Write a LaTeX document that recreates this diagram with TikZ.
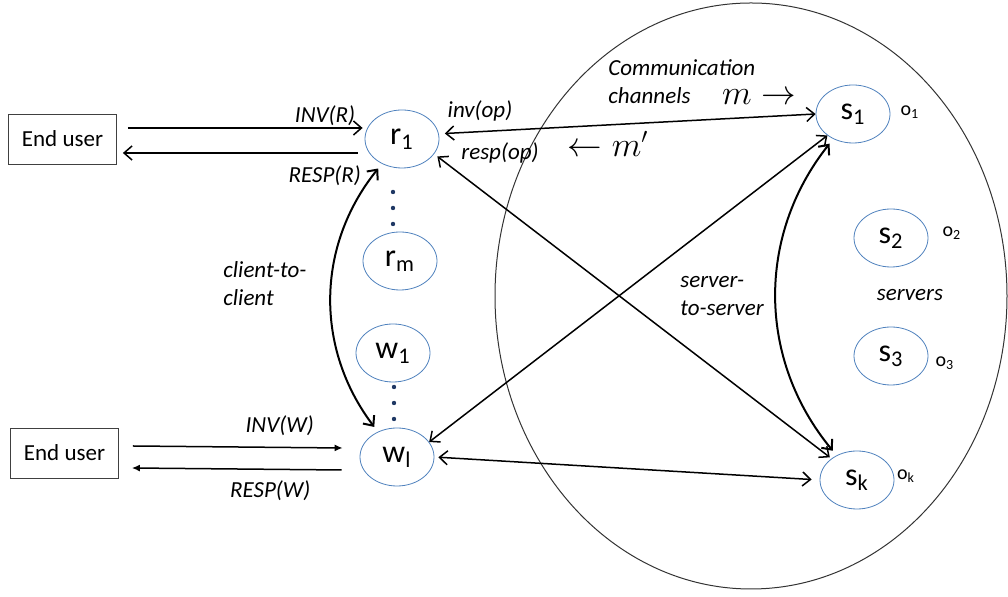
\documentclass[tikz,border=0pt]{standalone}
\usepackage{fontspec}
\setmainfont{Carlito}
\usepackage{amsmath}
\usepackage{xcolor}
\usepackage{tikz}
\usetikzlibrary{arrows.meta,positioning,shapes.geometric}
\definecolor{nodeblue}{RGB}{79,129,189}
\definecolor{dotblue}{RGB}{31,56,100}
\tikzset{%
	user/.style  = {draw=black!75, rectangle, minimum width=54pt, minimum height=25pt, inner sep=0pt, font=\fontsize{11.5}{14}\selectfont},
	proc/.style  = {draw=nodeblue, ellipse, minimum width=37pt, minimum height=29pt, inner sep=0pt, font=\fontsize{16}{18}\selectfont},
	lbl/.style   = {font=\fontsize{11.5}{14}\selectfont\itshape, inner sep=1pt},
	obj/.style   = {font=\fontsize{10}{12}\selectfont, inner sep=0pt},
	msg/.style   = {font=\fontsize{16}{18}\selectfont, inner sep=0pt},
	link/.style  = {line width=0.75pt},
	curve/.style = {line width=1pt, shorten <=3pt, shorten >=3pt},
	wtip/.style  = {line width=0.75pt, -{Latex[length=4pt,width=3.5pt]}},
}

\begin{document}
\begin{tikzpicture}[x=0.5pt,y=-0.5pt,>={Straight Barb[length=4pt,width=7pt]}]
		\useasboundingbox (0,0) rectangle (1008,597);
		% server group
		\draw[line width=0.5pt,black!80] (751,296) ellipse [x radius=128pt, y radius=146.5pt];
		
		% end users and clients
		\node[user] (endR) at (62.5,139) {End user};
		\node[user] (endW) at (64.5,453) {End user};
		\node[proc] (r1) at (402,139) {r\textsubscript{1}};
		\node[proc] (rm) at (400,261) {r\textsubscript{m}};
		\node[proc] (w1) at (393,353) {w\textsubscript{1}};
		\node[proc] (wl) at (397,457) {w\textsubscript{l}};
		\foreach \y in {192,208,224} \fill[dotblue] (393,\y) circle (1.1pt);
		\foreach \y in {387,403,419} \fill[dotblue] (394,\y) circle (1.1pt);
		
		% servers
		\node[proc] (s1) at (853,114) {s\textsubscript{1}};
		\node[proc] (s2) at (891,238) {s\textsubscript{2}};
		\node[proc] (s3) at (891,356) {s\textsubscript{3}};
		\node[proc] (sk) at (857,480) {s\textsubscript{k}};
		\node[obj] (o1) at (910,112) {o\textsubscript{1}};
		\node[obj] (o2) at (952,233) {o\textsubscript{2}};
		\node[obj] (o3) at (945,363) {o\textsubscript{3}};
		\node[obj] (ok) at (906,476) {o\textsubscript{k}};
		
		% texts
		\node[lbl] (invop) at (480,111) {inv(op)};
		\node[lbl] (respop) at (500,153) {resp(op)};
		\node[lbl,align=left,anchor=north west,inner sep=0pt] (chan) at (608,59) {Communication\\channels};
		\node[msg] (mfwd) at (759,97) {$m \rightarrow$};
		\node[msg] (mback) at (608,144) {$\leftarrow m'$};
		\node[lbl,align=left,anchor=north west,inner sep=0pt] (c2c) at (223,261) {client-to-\\client};
		\node[lbl,align=left,anchor=north west,inner sep=0pt] (s2s) at (680,276) {server-\\to-server};
		\node[lbl] (srvs) at (910,295) {servers};
		
		% invocations and responses
		\draw[link,->] ([xshift=5.5pt,yshift=5.5pt]endR.east) -- node[lbl,above,pos=0.84] (invR) {INV(R)} ([xshift=-1pt,yshift=5.5pt]r1.west);
		\draw[link,->] ([xshift=-3.5pt,yshift=-7pt]r1.west) -- node[lbl,below,yshift=-5pt,pos=0.14] (respR) {RESP(R)} ([xshift=3pt,yshift=-7pt]endR.east);
		\draw[wtip] ([xshift=7pt,yshift=3.5pt]endW.east) -- node[lbl,above,yshift=4.5pt,pos=0.7] (invW) {INV(W)} ([xshift=-8.5pt,yshift=4.5pt]wl.west);
		\draw[wtip] ([xshift=-9pt,yshift=-6.5pt]wl.west) -- node[lbl,below,yshift=-4.5pt,pos=0.34] (respW) {RESP(W)} ([xshift=6.5pt,yshift=-7.5pt]endW.east);
		
		% channels
		\draw[link,<->,shorten <=3pt] (r1.8) -- (s1.west);
		\draw[link,<->,shorten <=2pt,shorten >=1pt] (r1.-25) -- (sk.140);
		\draw[link,<->] (wl.25) -- (s1.-140);
		\draw[link,<->,shorten <=2pt,shorten >=4pt] (wl.east) -- (sk.west);
		\draw[curve,<->] (r1) to[bend right=38] (wl);
		\draw[curve,<->] (s1) to[bend right=39] (sk);
		
\end{tikzpicture}
\end{document}
